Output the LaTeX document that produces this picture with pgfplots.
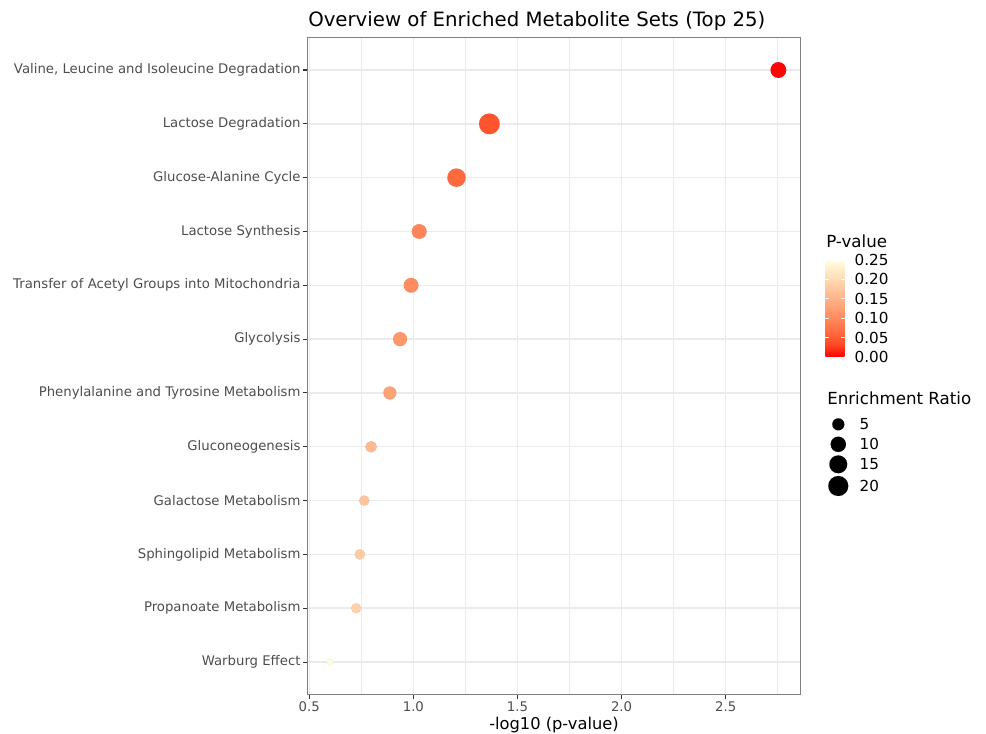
\documentclass[border=0pt]{standalone}
\usepackage{pgfplots}
\usepackage{pgfplotstable}
\pgfplotsset{compat=1.18}
\usepackage{fontspec}
\setmainfont{DejaVu Sans}
\definecolor{tickgrey}{HTML}{4D4D4D}
\definecolor{gridgrey}{HTML}{EBEBEB}
\definecolor{bordergrey}{HTML}{333333}

\pgfplotstableread{
x y p er
2.753 12 0.001766 10.7
1.365 11 0.04315 21.8
1.207 10 0.06209 16.0
1.028 9 0.09376 8.9
0.989 8 0.1026 8.9
0.936 7 0.1159 7.8
0.887 6 0.1297 6.3
0.797 5 0.1596 4.2
0.764 4 0.1722 3.1
0.743 3 0.1807 3.1
0.725 2 0.1884 2.8
0.599 1 0.2518 0.6
}\sets

\pgfplotstableread{
x y er
628.7 231.5 5
628.7 216.5 10
628.7 201.5 15
628.7 185.25 20
}\sizeleg

\pgfplotsset{
  sizemarks/.style={
    scatter, only marks, mark=*,
    mark options={line width=0.01pt},
    visualization depends on={1.3425*sqrt(\thisrow{er})+1.5 \as \perpointmarksize},
    scatter/@pre marker code/.append style={/tikz/mark size=\perpointmarksize},
  }
}

\begin{document}
\begin{tikzpicture}
\begin{axis}[
  at={(230.6pt,29pt)}, anchor=south west,
  scale only axis, width=370pt, height=492.45pt,
  xmin=0.4913, xmax=2.8607, ymin=0.4, ymax=12.6,
  xtick={0.5,1,1.5,2,2.5},
  minor xtick={0.75,1.25,1.75,2.25,2.75},
  xticklabels={0.5,1.0,1.5,2.0,2.5},
  ytick={1,...,12},
  yticklabels={Warburg Effect, Propanoate Metabolism, Sphingolipid Metabolism, Galactose Metabolism, Gluconeogenesis, Phenylalanine and Tyrosine Metabolism, Glycolysis, Transfer of Acetyl Groups into Mitochondria, Lactose Synthesis, Glucose-Alanine Cycle, Lactose Degradation, {Valine, Leucine and Isoleucine Degradation}},
  tick label style={font=\fontsize{9.95}{11}\selectfont, text=tickgrey},
  yticklabel style={inner sep=1.5pt},
  xticklabel style={inner sep=2pt},
  grid=both,
  major grid style={gridgrey, line width=1.1pt},
  minor grid style={gridgrey, line width=0.55pt},
  axis line style={black!50, line width=1pt},
  tick pos=left, tick align=outside,
  major tick length=3.5pt, minor tick length=0pt,
  major tick style={bordergrey, line width=0.8pt},
  colormap={pv}{rgb255(0)=(255,0,0) rgb255(1)=(255,71,35) rgb255(2)=(255,105,62) rgb255(4)=(255,159,114) rgb255(6)=(255,208,168) rgb255(8)=(255,255,224)},
  point meta min=0, point meta max=0.25,
  colorbar,
  colorbar style={
    at={(parent axis.south east)}, anchor=south west,
    xshift=9.9pt, yshift=253pt,
    scale only axis, width=15pt, height=72.75pt,
    ytick={0,0.05,0.1,0.15,0.2,0.25},
    ytick pos=both, yticklabel pos=right,
    yticklabel style={font=\fontsize{11.4}{13}\selectfont, text=black,
      /pgf/number format/fixed, /pgf/number format/fixed zerofill,
      /pgf/number format/precision=2, /pgf/number format/assume math mode=true,
      inner sep=0pt, xshift=6.75pt},
    axis line style={draw=none},
    tick align=inside, major tick length=3pt,
    major tick style={white, line width=0.6pt},
  },
]
\addplot[sizemarks, point meta=\thisrow{p}] table[x=x, y=y] {\sets};
\end{axis}

% overlay axis in pt units for the size legend
\begin{axis}[
  at={(0pt,0pt)}, anchor=origin,
  scale only axis, width=739.5pt, height=549.75pt,
  xmin=0, xmax=739.5, ymin=0, ymax=549.75,
  hide axis, clip=false,
]
\addplot[scatter/use mapped color={draw=black, fill=black}, sizemarks, point meta=\thisrow{er}] table[x=x, y=y] {\sizeleg};
\end{axis}

\node[anchor=base west, inner sep=0pt, font=\fontsize{14.8}{17}\selectfont] at (231pt,529.5pt) {Overview of Enriched Metabolite Sets (Top 25)};
\node[anchor=base, inner sep=0pt, font=\fontsize{12.2}{14}\selectfont] at (415.5pt,2.4pt) {-log10 (p-value)};
\node[anchor=base west, inner sep=0pt, font=\fontsize{12.5}{14}\selectfont] at (619.5pt,363.75pt) {P-value};
\node[anchor=base west, inner sep=0pt, font=\fontsize{12.5}{14}\selectfont] at (620.25pt,246pt) {Enrichment Ratio};
\foreach \yy/\lab in {231.5/5, 216.5/10, 201.5/15, 185.25/20}{
  \node[anchor=west, inner sep=0pt, font=\fontsize{11.4}{13}\selectfont] at (644.5pt,\yy pt) {\lab};
}
\pgfresetboundingbox
\useasboundingbox (0,0) rectangle (739.5pt,549.75pt);
\end{tikzpicture}
\end{document}
